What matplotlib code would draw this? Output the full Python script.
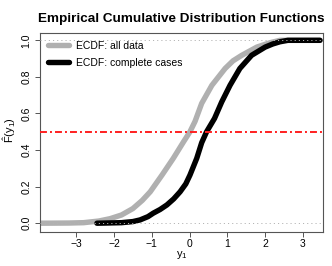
import matplotlib
matplotlib.use("Agg")
import matplotlib.pyplot as plt

plt.rcParams["font.family"] = ["Liberation Sans", "DejaVu Sans"]
plt.rcParams["mathtext.fontset"] = "custom"
plt.rcParams["mathtext.rm"] = "Liberation Sans"
plt.rcParams["mathtext.it"] = "Liberation Sans"
plt.rcParams["lines.scale_dashes"] = False

# ECDF of y1, all data
all_x = [-3.96, -3.2, -2.8, -2.4, -2.1, -1.8, -1.5, -1.25, -1.04, -0.73,
         -0.43, -0.16, 0.01, 0.145, 0.32, 0.59, 0.94, 1.15, 1.38, 1.78,
         2.13, 2.39, 3.45]
all_y = [0.0, 0.001, 0.003, 0.012, 0.025, 0.045, 0.08, 0.125, 0.172, 0.263,
         0.355, 0.445, 0.50, 0.557, 0.655, 0.754, 0.846, 0.888, 0.918, 0.963,
         0.987, 1.0, 1.0]

# ECDF of y1, complete cases only
cc_x = [-2.45, -1.8, -1.5, -1.31, -1.1, -0.96, -0.78, -0.60, -0.42, -0.25,
        -0.1, 0.01, 0.19, 0.32, 0.45, 0.66, 0.85, 1.07, 1.33, 1.64,
        2.0, 2.2, 2.39, 2.6, 3.45]
cc_y = [0.0, 0.003, 0.009, 0.018, 0.036, 0.055, 0.075, 0.10, 0.133, 0.172,
        0.215, 0.263, 0.355, 0.44, 0.50, 0.573, 0.663, 0.754, 0.846, 0.918,
        0.963, 0.98, 0.992, 1.0, 1.0]

x_ticks = [-3, -2, -1, 0, 1, 2, 3]
y_ticks = [0.0, 0.2, 0.4, 0.6, 0.8, 1.0]
median_level = 0.5

fig = plt.figure(figsize=(3.32, 2.66), dpi=100)
ax = fig.add_axes([40 / 332, 34 / 266, 283 / 332, 199 / 266])

ax.plot(all_x, all_y, color="#b0b0b0", lw=3.9, solid_capstyle="round",
        solid_joinstyle="round", label="ECDF: all data")
ax.plot(cc_x, cc_y, color="black", lw=3.9, solid_capstyle="round",
        solid_joinstyle="round", label="ECDF: complete cases")
for level in (0, 1):
    ax.axhline(level, color="#b3b3b3", lw=0.7, linestyle=(0, (0.8, 2.2)), zorder=5)
ax.axhline(median_level, color="#ff2020", lw=1.4, linestyle=(0, (5, 2.2, 1.4, 2.2)), zorder=6)

ax.set_xlim(-3.956, 3.529)
ax.set_ylim(-0.048, 1.04)
ax.set_xticks(x_ticks, labels=[str(t).replace("-", "\u2212") for t in x_ticks])
ax.set_yticks(y_ticks, labels=[f"{t:.1f}" for t in y_ticks])
ax.tick_params(length=3.5, width=0.7, color="#555555", labelsize=7.5, pad=1.5)
ax.tick_params(axis="y", labelrotation=90, pad=2.5)
for lab in ax.get_yticklabels():
    lab.set_va("center")
for s in ax.spines.values():
    s.set_color("#555555")
    s.set_linewidth(0.8)

ax.set_xlabel(r"$y_1$", fontsize=8, labelpad=0)
ax.set_ylabel(r"$\hat{F}(y_1)$", fontsize=8)
ax.yaxis.set_label_coords(-0.078, 0.51)
ax.set_title("Empirical Cumulative Distribution Functions", fontsize=9.7,
             fontweight="bold", pad=8)

leg = ax.legend(loc="upper left", borderaxespad=0, fontsize=7.5, fancybox=False,
                framealpha=0, edgecolor="#555555", handlelength=2.0,
                handletextpad=0.75, borderpad=0.75, labelspacing=0.7)
leg.get_frame().set_linewidth(0.8)

fig.savefig("out.png", dpi=100)
